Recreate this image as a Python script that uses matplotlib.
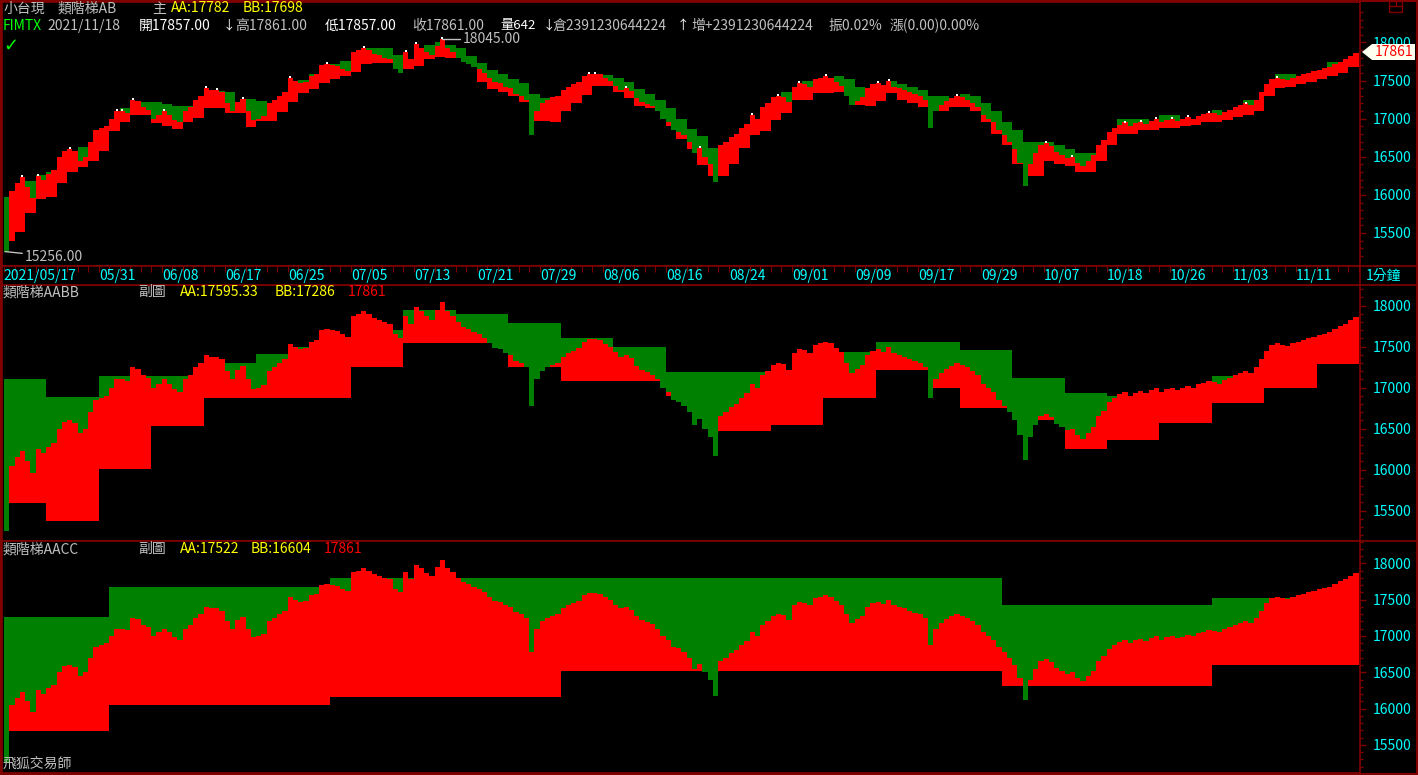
import numpy as np
import matplotlib
matplotlib.use("Agg")
import matplotlib.pyplot as plt
from matplotlib.patches import Polygon, Rectangle

plt.rcParams["font.family"] = ["Noto Sans CJK TC", "DejaVu Sans"]

W, H = 1418, 775
BG = "#000000"
FRAME = "#800000"
RED = "#ff0000"
GREEN = "#008000"
GRAY = "#c0c0c0"
YEL = "#ffff00"
CYAN = "#00ffff"

# price, two bars per trading day
price = np.array([
    15256, 16050, 16150, 16230, 16100, 15960, 16250, 16200, 16280, 16330,
    16500, 16580, 16600, 16570, 16450, 16500, 16700, 16850, 16880, 16900,
    17000, 17100, 17100, 17080, 17250, 17230, 17150, 17120, 17000, 17050,
    17100, 17050, 16980, 16950, 17100, 17150, 17250, 17300, 17400, 17380,
    17380, 17350, 17200, 17100, 17220, 17260, 17100, 16980, 17000, 17030,
    17200, 17250, 17300, 17350, 17530, 17500, 17470, 17480, 17560, 17580,
    17700, 17720, 17700, 17690, 17650, 17620, 17880, 17900, 17930, 17900,
    17850, 17830, 17800, 17780, 17650, 17600, 17880, 17780, 17980, 17930,
    17870, 17830, 17950, 18045, 17930, 17880, 17800, 17740, 17720, 17680,
    17650, 17600, 17540, 17480, 17470, 17420, 17400, 17330, 17300, 17250,
    16780, 17100, 17200, 17250, 17280, 17300, 17380, 17420, 17450, 17480,
    17560, 17590, 17590, 17580, 17530, 17490, 17430, 17380, 17400, 17360,
    17270, 17220, 17190, 17160, 17100, 17000, 16950, 16850, 16830, 16780,
    16700, 16550, 16620, 16500, 16400, 16170, 16650, 16700, 16760, 16800,
    16880, 16930, 17050, 17000, 17150, 17200, 17280, 17300, 17290, 17220,
    17420, 17470, 17460, 17420, 17520, 17540, 17560, 17540, 17480, 17430,
    17300, 17180, 17230, 17280, 17400, 17450, 17470, 17440, 17500, 17420,
    17400, 17380, 17350, 17320, 17300, 17250, 16880, 17100, 17180, 17230,
    17270, 17300, 17280, 17250, 17200, 17150, 17050, 17000, 16950, 16850,
    16780, 16700, 16600, 16420, 16120, 16400, 16550, 16650, 16680, 16640,
    16560, 16520, 16480, 16500, 16420, 16380, 16450, 16520, 16650, 16720,
    16820, 16880, 16920, 16950, 16900, 16940, 16960, 16930, 16970, 17000,
    16950, 16980, 17000, 16970, 16990, 17020, 17000, 17040, 17060, 17080,
    17070, 17050, 17090, 17120, 17150, 17180, 17200, 17180, 17250, 17350,
    17450, 17520, 17540, 17520, 17510, 17540, 17560, 17580, 17600, 17620,
    17640, 17660, 17680, 17720, 17750, 17780, 17820, 17861,
])

nan = np.nan
# top panel daily steps (upper = green top, lower = red bottom)
top_hi = np.array([
    15976, nan, 16182, 16261, 16304, nan, nan, 16625, nan, nan,
    nan, 17136, nan, 17223, 17223, 17193, 17167, 17167, nan, nan,
    17364, 17346, nan, 17259, 17230, nan, nan, nan, 17508, 17587,
    nan, 17718, 17757, nan, 17932, 17932, 17932, 17836, nan, nan,
    17967, 18003, 17967, 17932, 17823, 17727, 17640, 17587, 17517, 17464,
    17324, 17268, nan, 17364, nan, nan, nan, 17573, 17530, 17478,
    17386, 17324, 17245, 17136, 16992, 16861, 16773, 16612, nan, nan,
    nan, nan, nan, nan, 17354, nan, 17499, nan, nan, 17560,
    17517, 17420, nan, nan, 17499, 17450, 17420, 17380, 17300, 17300,
    nan, 17320, 17300, 17200, 17100, 16950, 16850, 16700, 16700, 16700,
    16650, 16600, 16550, 16550, nan, nan, 17000, 17000, 17000, nan,
    17050, 17050, nan, nan, nan, 17120, nan, nan, 17250, nan,
    nan, 17580, 17580, nan, nan, nan, 17740, nan, nan,
])
top_lo = np.array([
    15399, 15517, 15766, 15946, 15976, 16156, 16304, 16370, 16449, 16580,
    16839, 16957, 17049, 17049, 16948, 16904, 16865, 16961, 17013, 17144,
    17144, 17079, 17079, 16895, 16974, 16974, 17092, 17223, 17341, 17386,
    17473, 17517, 17560, 17613, 17718, 17727, 17727, 17727, 17652, 17696,
    17780, 17806, 17790, 17790, 17790, 17486, 17390, 17354, 17302, 17223,
    16974, 16974, 16960, 17105, 17210, 17311, 17429, 17429, 17354, 17268,
    17167, 17144, 17144, 16900, 16733, 16600, 16392, 16252, 16252, 16405,
    16620, 16786, 16843, 16983, 17079, 17245, 17245, 17333, 17340, 17354,
    17354, 17180, 17167, 17236, 17341, 17250, 17200, 17150, 17100, 17100,
    17150, 17150, 17100, 16950, 16800, 16650, 16400, 16250, 16250, 16450,
    16400, 16380, 16300, 16300, 16450, 16650, 16800, 16800, 16850, 16850,
    16880, 16880, 16900, 16920, 16950, 16950, 16980, 17020, 17050, 17100,
    17300, 17400, 17420, 17450, 17480, 17520, 17560, 17600, 17680,
])

# AABB weekly steps: length in days, AA level, BB level
mid_len = [4, 5, 5, 5, 5, 4, 5, 5, 5, 5, 5, 5, 5, 5, 5, 5, 5, 5, 3, 5, 5, 4, 5, 5, 5, 5, 4]
mid_hi = [17106, 16886, 17143, 17143, 17300, 17411, 17500, 17700, 17950, 17900,
          17790, 17610, 17490, 17190, 17190, 17100, 17430, 17560, 17560, 17460,
          17120, 16930, 16900, 16950, 17140, 17400, 17595]
mid_lo = [15594, 15374, 16008, 16533, 16874, 16874, 16874, 17250, 17540, 17545,
          17250, 17080, 17080, 16900, 16470, 16540, 16870, 17210, 17000, 16750,
          16600, 16250, 16360, 16570, 16810, 16990, 17286]

# AACC monthly steps
bot_len = [10, 21, 22, 42, 20, 14]
bot_hi = [17261, 17674, 17798, 17798, 17430, 17522]
bot_lo = [15696, 16053, 16163, 16520, 16313, 16604]

dates = ["05/31", "06/08", "06/17", "06/25", "07/05", "07/13", "07/21", "07/29",
         "08/06", "08/16", "08/24", "09/01", "09/09", "09/17", "09/29", "10/07",
         "10/18", "10/26", "11/03", "11/11"]

N = len(price)
x = np.arange(N)
PX0, PXW = 4.0, 5.25  # pixel of bar 0, pixels per bar


def xpx(p):
    return (p - PX0) / PXW


def rect(top, bottom, left=2, right=1360):
    return [left / W, 1 - bottom / H, (right - left) / W, (bottom - top) / H]


def draw_steps(ax, hi, lo):
    lo = np.where(np.isnan(lo), price, lo)
    hi = np.where(np.isnan(hi), price, hi)
    up = np.where(price > lo, price - lo, 0)
    dn = np.where(hi > price, hi - price, 0)
    ax.bar(x, up, bottom=lo, width=1.0, align="edge", color=RED,
           linewidth=0, antialiased=False)
    ax.bar(x, dn, bottom=price, width=1.0, align="edge", color=GREEN,
           linewidth=0, antialiased=False)


def style(ax, ylim):
    ax.set_facecolor(BG)
    for s in ax.spines.values():
        s.set_color(FRAME)
        s.set_linewidth(1.2)
    ax.set_xticks([])
    ax.yaxis.tick_right()
    ax.set_yticks([15500, 16000, 16500, 17000, 17500, 18000])
    ax.set_yticks(np.arange(15200, 18500, 100), minor=True)
    ax.tick_params(axis="y", which="major", colors=FRAME, labelcolor=CYAN,
                   length=4, width=1, pad=5, labelsize=10)
    ax.tick_params(axis="y", which="minor", colors=FRAME, length=2, width=1)
    ax.set_xlim(xpx(2), xpx(1360))
    ax.set_ylim(*ylim)


fig = plt.figure(figsize=(W / 100, H / 100), dpi=100, facecolor=BG)

ax1 = fig.add_axes(rect(2, 266))
ax2 = fig.add_axes(rect(285, 541))
ax3 = fig.add_axes(rect(541, 773))
style(ax1, (15067, 18531))
style(ax2, (15130, 18252))
style(ax3, (15114, 18307))

draw_steps(ax1, np.repeat(top_hi, 2), np.repeat(top_lo, 2))
draw_steps(ax2, np.repeat(np.repeat(mid_hi, mid_len), 2).astype(float),
           np.repeat(np.repeat(mid_lo, mid_len), 2).astype(float))
draw_steps(ax3, np.repeat(np.repeat(bot_hi, bot_len), 2).astype(float),
           np.repeat(np.repeat(bot_lo, bot_len), 2).astype(float))

# white tick marks on local highs of the main chart
peak = np.r_[False, (price[1:-1] >= price[:-2]) & (price[1:-1] >= price[2:]), False]
ax1.plot(x[peak] + 0.5, price[peak] + 12, "s", color="white", ms=1.6, mew=0)

# max / min labels on the main chart
imax = int(np.argmax(price))
ax1.annotate("18045.00", xy=(imax + 0.5, price[imax]), xytext=(20, 0),
             textcoords="offset pixels", color=GRAY, fontsize=10, va="center",
             arrowprops=dict(arrowstyle="-", color=GRAY, lw=1,
                             shrinkA=0, shrinkB=0,
                             connectionstyle="angle,angleA=0,angleB=45"))
ax1.annotate("15256.00", xy=(0.2, price[0]), xytext=(20, -5),
             textcoords="offset pixels", color=GRAY, fontsize=10, va="center",
             arrowprops=dict(arrowstyle="-", color=GRAY, lw=1,
                             shrinkA=0, shrinkB=0))

# date band
axd = fig.add_axes(rect(266, 285))
axd.set_facecolor(BG)
axd.set_yticks([])
for s in axd.spines.values():
    s.set_color(FRAME)
    s.set_linewidth(1.2)
axd.set_xticks(np.arange(0, N + 1, 2))
axd.tick_params(axis="x", direction="in", top=True, bottom=False,
                labelbottom=False, colors=FRAME, length=4)
axd.set_xlim(xpx(2), xpx(1360))
axd.set_ylim(0, 1)
axd.text(xpx(3), 0.45, "2021/05/17", color=CYAN, fontsize=10,
         ha="left", va="center")
for j, d in enumerate(dates):
    axd.text(21.6 + 12 * j, 0.45, d, color=CYAN, fontsize=10,
             ha="center", va="center")

# overlay in pixel coordinates for frame and captions
ov = fig.add_axes([0, 0, 1, 1], zorder=10)
ov.set_xlim(0, W)
ov.set_ylim(H, 0)
ov.axis("off")
ov.patch.set_alpha(0)


def t(px, py, s, c=GRAY, **kw):
    ov.text(px, py, s, color=c, fontsize=kw.pop("fs", 10), va="center",
            ha=kw.pop("ha", "left"), **kw)


for yy in (1, 773.5):
    ov.plot([1, 1417], [yy, yy], color=FRAME, lw=1.5)
ov.plot([1, 1], [1, 774], color=FRAME, lw=1.5)
ov.plot([1416.5, 1416.5], [1, 774], color=FRAME, lw=1.5)
ov.plot([1360, 1417], [266, 266], color=FRAME, lw=1.2)
ov.plot([1360, 1417], [285, 285], color=FRAME, lw=1.2)
ov.plot([1360, 1417], [541, 541], color=FRAME, lw=1.2)

# header of main chart
t(3, 8.5, "小台現")
t(58, 8.5, "類階梯AB")
t(152, 8.5, "主")
t(171, 8.5, "AA:17782", YEL)
t(243, 8.5, "BB:17698", YEL)
t(3, 26, "FIMTX", "#00ff00")
t(47, 26, "2021/11/18")
t(139, 26, "開17857.00", "#ffffff")
t(223, 26, "↓", "#ffffff", fs=9)
t(235, 26, "高17861.00", GRAY)
t(325, 26, "低17857.00", "#ffffff")
t(412, 26, "收17861.00", GRAY)
t(500, 26, "量642", "#ffffff", fs=9.5)
t(543, 26, "↓", "#ffffff", fs=9)
t(552, 26, "倉2391230644224", GRAY)
t(677, 26, "↑", "#ffffff", fs=9)
t(691, 26, "增+2391230644224", GRAY)
t(828, 26, "振0.02%", GRAY)
t(890, 26, "漲(0.00)0.00%", GRAY)
ov.text(3, 46, "\u2713", color="#00ff00", fontsize=13, va="center",
        family=["DejaVu Sans"], fontweight="bold")

# last price tag
ov.add_patch(Polygon([[1362, 52], [1372, 44], [1415, 44], [1415, 60], [1372, 60]],
                     closed=True, facecolor="#fffff0", edgecolor="none"))
t(1375, 52, "17861", RED)
# window icon
ov.add_patch(Rectangle((1389, 1), 13, 11, fill=False, edgecolor=FRAME, lw=1))
ov.plot([1389, 1402], [6, 6], color=FRAME, lw=1)
ov.plot([1395.5, 1395.5], [1, 6], color=FRAME, lw=1)
t(1366, 275.5, "1分鐘", CYAN)

# sub chart headers
t(3, 292, "類階梯AABB")
t(138, 292, "副圖")
t(180, 292, "AA:17595.33", YEL)
t(275, 292, "BB:17286", YEL)
t(348, 292, "17861", RED)
t(3, 549, "類階梯AACC")
t(138, 549, "副圖")
t(180, 549, "AA:17522", YEL)
t(251, 549, "BB:16604", YEL)
t(324, 549, "17861", RED)
t(3, 764, "飛狐交易師")

fig.savefig("out.png", dpi=100, facecolor=BG)
